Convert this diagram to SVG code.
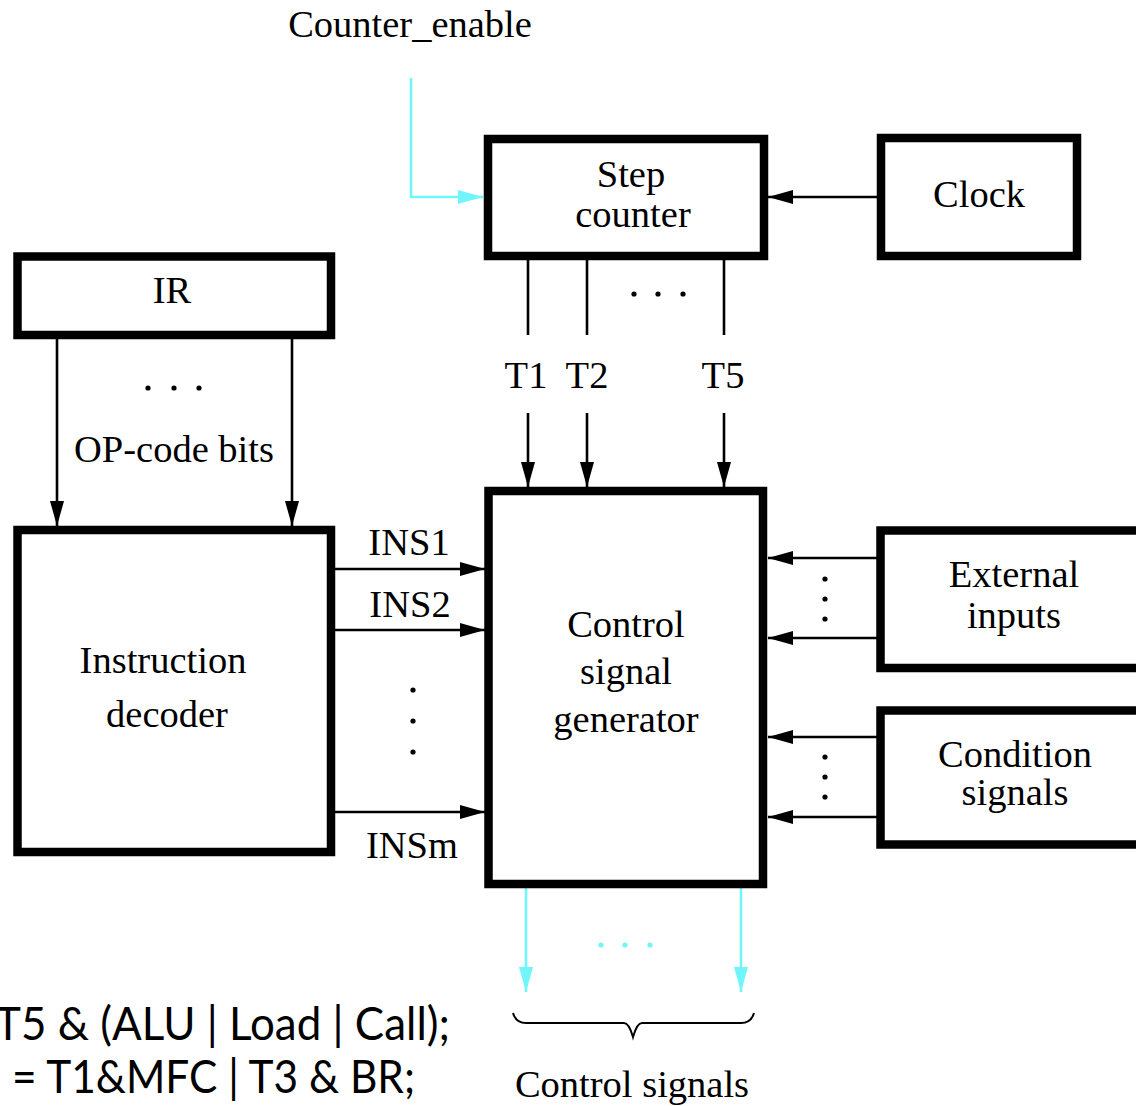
<svg xmlns="http://www.w3.org/2000/svg" width="1136" height="1106" viewBox="0 0 1136 1106">
  <defs>
    <style>
      .box { fill: #ffffff; stroke: #000000; stroke-width: 8.5; }
      .t { font-family: "Liberation Serif", "Times New Roman", serif; font-size: 38.5px; fill: #000000; text-anchor: middle; }
      .w { stroke: #000000; stroke-width: 2.6; fill: none; }
      .c { stroke: #70F5FA; stroke-width: 2.6; fill: none; }
      .arr { marker-end: url(#ah); }
      .carr { marker-end: url(#ahc); }
      .dot { fill: #000000; }
      .cdot { fill: #70F5FA; }
      .code { font-family: "Lato", "Open Sans", "Liberation Sans", sans-serif; font-size: 46px; fill: #000000; }
    </style>
    <marker id="ah" markerUnits="userSpaceOnUse" markerWidth="26" markerHeight="14" refX="25" refY="7" orient="auto">
      <path d="M0,0 L25,7 L0,14 z" fill="#000000"/>
    </marker>
    <marker id="ahc" markerUnits="userSpaceOnUse" markerWidth="26" markerHeight="14" refX="25" refY="7" orient="auto">
      <path d="M0,0 L25,7 L0,14 z" fill="#70F5FA"/>
    </marker>
  </defs>
  <rect width="1136" height="1106" fill="#ffffff"/>

  <g id="connectors">
    <path class="c carr" d="M411,78 V197 H483"/>
    <line class="w arr" x1="881" y1="197" x2="768" y2="197"/>
    <line class="w" x1="528" y1="260" x2="528" y2="335"/>
    <line class="w" x1="587" y1="260" x2="587" y2="335"/>
    <line class="w" x1="724" y1="260" x2="724" y2="335"/>
    <line class="w arr" x1="528" y1="413" x2="528" y2="487"/>
    <line class="w arr" x1="587" y1="413" x2="587" y2="487"/>
    <line class="w arr" x1="724" y1="413" x2="724" y2="487"/>
    <line class="w arr" x1="57" y1="339" x2="57" y2="526"/>
    <line class="w arr" x1="292" y1="339" x2="292" y2="526"/>
    <line class="w arr" x1="335" y1="569" x2="485" y2="569"/>
    <line class="w arr" x1="335" y1="630" x2="485" y2="630"/>
    <line class="w arr" x1="335" y1="812" x2="485" y2="812"/>
    <line class="w arr" x1="877" y1="558" x2="768" y2="558"/>
    <line class="w arr" x1="877" y1="638" x2="768" y2="638"/>
    <line class="w arr" x1="877" y1="737" x2="768" y2="737"/>
    <line class="w arr" x1="877" y1="817" x2="768" y2="817"/>
    <line class="c carr" x1="526" y1="888" x2="526" y2="992"/>
    <line class="c carr" x1="741" y1="888" x2="741" y2="992"/>
    <circle class="dot" cx="148" cy="388" r="2.6"/>
    <circle class="dot" cx="174" cy="388" r="2.6"/>
    <circle class="dot" cx="199" cy="388" r="2.6"/>
    <circle class="dot" cx="634" cy="294" r="2.6"/>
    <circle class="dot" cx="658" cy="294" r="2.6"/>
    <circle class="dot" cx="683" cy="294" r="2.6"/>
    <circle class="dot" cx="413" cy="690" r="2.6"/>
    <circle class="dot" cx="413" cy="721" r="2.6"/>
    <circle class="dot" cx="413" cy="752" r="2.6"/>
    <circle class="dot" cx="825" cy="579" r="2.6"/>
    <circle class="dot" cx="825" cy="599" r="2.6"/>
    <circle class="dot" cx="825" cy="619" r="2.6"/>
    <circle class="dot" cx="825" cy="757" r="2.6"/>
    <circle class="dot" cx="825" cy="777" r="2.6"/>
    <circle class="dot" cx="825" cy="797" r="2.6"/>
    <circle class="cdot" cx="601" cy="945" r="2.6"/>
    <circle class="cdot" cx="625" cy="945" r="2.6"/>
    <circle class="cdot" cx="650" cy="945" r="2.6"/>
    <path d="M513,1013 Q516,1023 526,1023 H624 Q629,1023 633,1037 Q637,1023 642,1023 H741 Q751,1023 754,1013" fill="none" stroke="#000000" stroke-width="2"/>
  </g>

  <g id="labels">
    <text class="t" x="410" y="37">Counter_enable</text>
    <text class="t" x="526" y="388">T1</text>
    <text class="t" x="587" y="388">T2</text>
    <text class="t" x="723" y="388">T5</text>
    <text class="t" x="174" y="462">OP-code bits</text>
    <text class="t" x="409" y="555">INS1</text>
    <text class="t" x="410" y="617">INS2</text>
    <text class="t" x="412" y="858">INSm</text>
    <text class="t" x="632" y="1097">Control signals</text>
  </g>

  <g id="step-counter">
    <rect class="box" x="488" y="139" width="276" height="117"/>
    <text class="t" x="631" y="187">Step</text>
    <text class="t" x="633" y="227">counter</text>
  </g>

  <g id="clock">
    <rect class="box" x="881" y="138" width="196" height="118"/>
    <text class="t" x="979" y="207">Clock</text>
  </g>

  <g id="ir">
    <rect class="box" x="17.5" y="256.5" width="313.5" height="78.5"/>
    <text class="t" x="172" y="303">IR</text>
  </g>

  <g id="instruction-decoder">
    <rect class="box" x="17.5" y="530" width="313.5" height="322"/>
    <text class="t" x="163" y="673">Instruction</text>
    <text class="t" x="167" y="727">decoder</text>
  </g>

  <g id="control-signal-generator">
    <rect class="box" x="488.5" y="491" width="274.5" height="393"/>
    <text class="t" x="626" y="637">Control</text>
    <text class="t" x="626" y="684">signal</text>
    <text class="t" x="626" y="732">generator</text>
  </g>

  <g id="external-inputs">
    <rect class="box" x="880.5" y="530.5" width="270" height="137.5"/>
    <text class="t" x="1014" y="587">External</text>
    <text class="t" x="1014" y="628">inputs</text>
  </g>

  <g id="condition-signals">
    <rect class="box" x="880.5" y="710.5" width="270" height="134"/>
    <text class="t" x="1015" y="767">Condition</text>
    <text class="t" x="1015" y="805">signals</text>
  </g>

  <g id="equations">
    <text class="code" x="-5" y="1040" textLength="455" lengthAdjust="spacingAndGlyphs">T5 &amp; (ALU | Load | Call);</text>
    <text class="code" x="12" y="1093" textLength="403" lengthAdjust="spacingAndGlyphs">= T1&amp;MFC | T3 &amp; BR;</text>
  </g>
</svg>
